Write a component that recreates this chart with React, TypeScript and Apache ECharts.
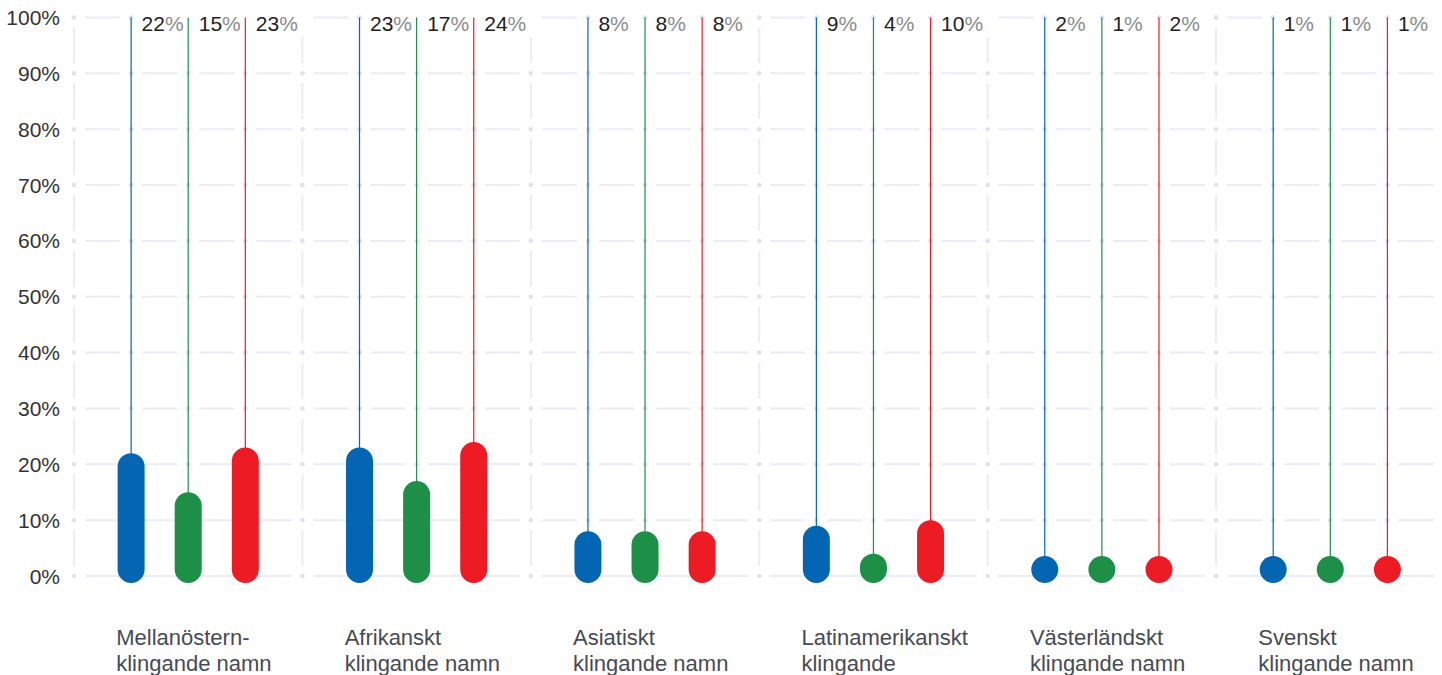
import { useEffect, useRef } from 'react';
import * as echarts from 'echarts';

// Name groups shown along the x axis
const categories = [
  'Mellanöstern-\nklingande namn',
  'Afrikanskt\nklingande namn',
  'Asiatiskt\nklingande namn',
  'Latinamerikanskt\nklingande',
  'Västerländskt\nklingande namn',
  'Svenskt\nklingande namn',
];

// Three measures per name group, in percent
const blueValues = [22, 23, 8, 9, 2, 1];
const greenValues = [15, 17, 8, 4, 1, 1];
const redValues = [23, 24, 8, 10, 2, 1];

const seriesColors = ['#0466b2', '#1d8f47', '#ed1c24'];
const yTicks = [0, 10, 20, 30, 40, 50, 60, 70, 80, 90, 100];

const FONT = '"Liberation Sans", Arial, Helvetica, sans-serif';

// Dotted/dashed background lattice: dots on every tick row at each
// category boundary and each mark slot, short segments between them.
const latticeItem = (_params: any, api: any) => {
  const children: any[] = [];
  const band = api.size([1, 0])[0];
  const xs: number[] = [];
  categories.forEach((_, i) => {
    const c = api.coord([i, 0])[0];
    xs.push(c - band / 2, c - band / 4, c, c + band / 4);
  });
  xs.push(api.coord([categories.length - 1, 0])[0] + band / 2);
  const ys = yTicks.map((t) => api.coord([0, t])[1]);
  const seg = { stroke: '#eaecf6', lineWidth: 2 };
  const gap = 11;
  ys.forEach((y) => {
    for (let k = 0; k < xs.length - 1; k++) {
      children.push({
        type: 'line',
        shape: { x1: xs[k] + gap, y1: y, x2: xs[k + 1] - gap, y2: y },
        style: seg,
      });
    }
  });
  xs.forEach((x, k) => {
    if (k % 4 !== 0) return;
    for (let j = 0; j < ys.length - 1; j++) {
      children.push({
        type: 'line',
        shape: { x1: x, y1: ys[j] - 10, x2: x, y2: ys[j + 1] + 10 },
        style: seg,
      });
    }
  });
  xs.forEach((x) => {
    ys.forEach((y) => {
      children.push({
        type: 'circle',
        shape: { cx: x, cy: y, r: 2.3 },
        style: { fill: '#dfe2f1' },
      });
    });
  });
  return { type: 'group', children };
};

// One capsule + stem + top value label per category
const makeSeries = (name: string, color: string, values: number[], slot: number) => ({
  type: 'custom',
  name,
  data: values.map((v, i) => [i, v]),
  z: 3,
  clip: false,
  silent: true,
  encode: { x: 0, y: 1 },
  renderItem: (_params: any, api: any) => {
    const i = api.value(0);
    const v = api.value(1);
    const band = api.size([1, 0])[0];
    const cx = api.coord([i, 0])[0] + (slot * band) / 4;
    const y0 = api.coord([i, 0])[1];
    const yv = api.coord([i, v])[1];
    const yTop = api.coord([i, 100])[1];
    const bottom = y0 + 7;
    const top = Math.min(yv, bottom - 27);
    return {
      type: 'group',
      children: [
        {
          type: 'line',
          shape: { x1: cx, y1: yTop, x2: cx, y2: top + 6 },
          style: { stroke: color, lineWidth: 1.2 },
        },
        {
          type: 'rect',
          shape: { x: cx - 13.5, y: top, width: 27, height: bottom - top, r: 13.5 },
          style: { fill: color },
        },
        {
          type: 'text',
          x: cx + 8.5,
          y: yTop + 6,
          style: {
            text: `{n|${v}}{p|%}`,
            align: 'left',
            verticalAlign: 'middle',
            backgroundColor: '#ffffff',
            padding: [3, 10, 3, 2],
            rich: {
              n: { fontSize: 21, fontFamily: FONT, fill: '#222222', color: '#222222' },
              p: { fontSize: 21, fontFamily: FONT, fill: '#8c8c8c', color: '#8c8c8c' },
            },
          },
        },
      ],
    };
  },
});

export default function App() {
  const ref = useRef<HTMLDivElement>(null);

  useEffect(() => {
    if (!ref.current) return;
    const chart = echarts.init(ref.current, undefined, { renderer: 'svg' });
    chart.setOption({
      animation: false,
      grid: { left: 74, right: 0.5, top: 17.5, bottom: 99, containLabel: false },
      xAxis: {
        type: 'category',
        data: categories,
        boundaryGap: true,
        axisLine: { show: false },
        axisTick: { show: false },
        splitLine: { show: false },
        axisLabel: {
          interval: 0,
          margin: 48,
          align: 'center',
          formatter: (val: string) => `{t|${val}}`,
          rich: {
            t: {
              width: 144,
              align: 'left',
              overflow: 'none',
              fontSize: 22,
              lineHeight: 26,
              fontFamily: FONT,
              color: '#474b52',
            },
          },
        },
      },
      yAxis: {
        type: 'value',
        min: 0,
        max: 100,
        interval: 10,
        axisLine: { show: false },
        axisTick: { show: false },
        splitLine: { show: false },
        axisLabel: {
          formatter: '{value}%',
          margin: 14,
          fontSize: 21,
          fontFamily: FONT,
          color: '#333333',
          padding: [4, 0, 0, 0],
        },
      },
      series: [
        {
          type: 'custom',
          name: 'lattice',
          data: [[0, 0]],
          z: 1,
          silent: true,
          clip: false,
          encode: { x: 0, y: 1 },
          renderItem: latticeItem,
        },
        makeSeries('blå', seriesColors[0], blueValues, -1),
        makeSeries('grön', seriesColors[1], greenValues, 0),
        makeSeries('röd', seriesColors[2], redValues, 1),
      ],
    });
    return () => chart.dispose();
  }, []);

  return (
    <div
      style={{
        position: 'fixed',
        left: 0,
        top: 0,
        width: '100vw',
        height: '100vh',
        overflow: 'hidden',
        background: '#ffffff',
      }}
    >
      <div ref={ref} style={{ width: 1445, height: 675 }} />
    </div>
  );
}
